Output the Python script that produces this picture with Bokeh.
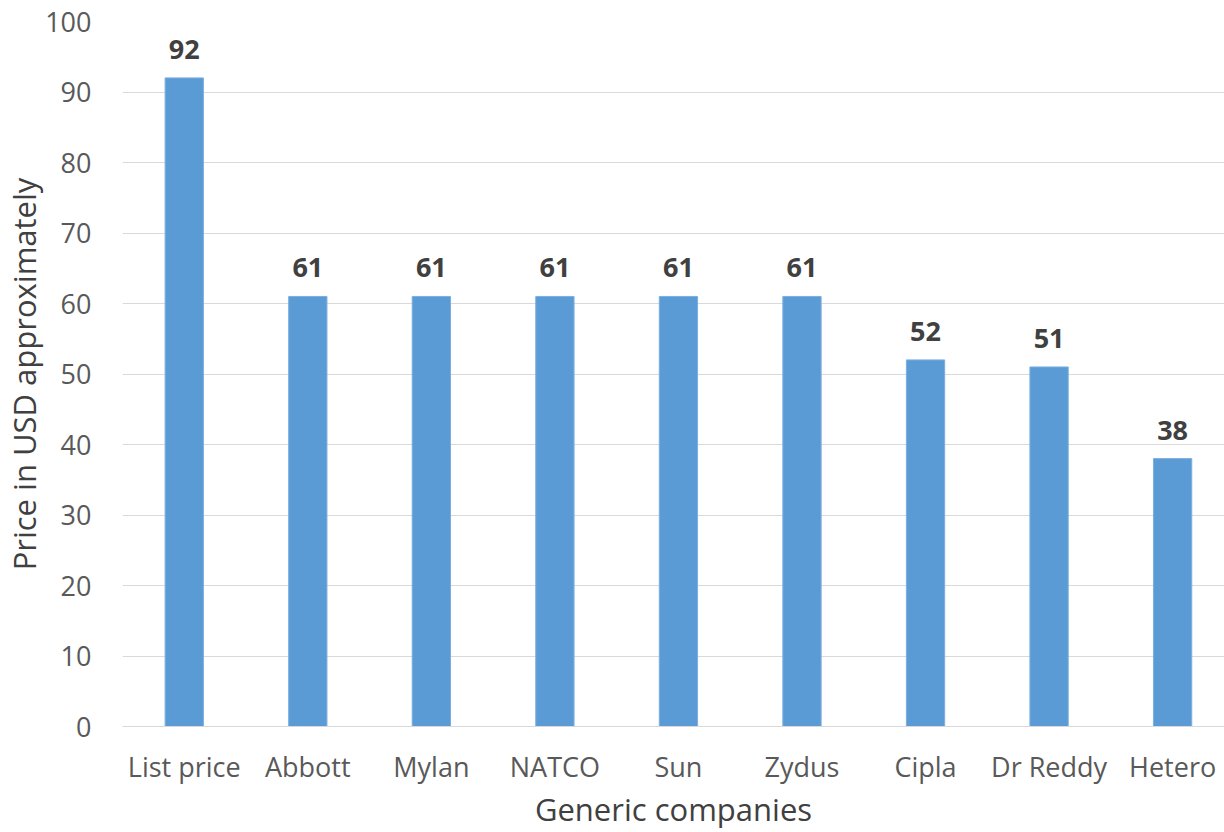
from bokeh.plotting import figure
from bokeh.models import ColumnDataSource, Range1d, FixedTicker, LabelSet
from bokeh.core.properties import value
from bokeh.embed import file_html
from bokeh.resources import INLINE

categories = ["List price", "Abbott", "Mylan", "NATCO", "Sun", "Zydus", "Cipla", "Dr Reddy", "Hetero"]
prices = [92, 61, 61, 61, 61, 61, 52, 51, 38]
y_ticks = [0, 10, 20, 30, 40, 50, 60, 70, 80, 90, 100]

xs = list(range(len(categories)))
src = ColumnDataSource(dict(x=xs, y=prices, lab=[str(v) for v in prices]))

FONT = "Open Sans"

p = figure(width=1224, height=832, output_backend="svg", toolbar_location=None,
           x_range=Range1d(-0.5, 8.42), y_range=Range1d(0, 100),
           min_border_left=121, min_border_right=0, min_border_top=21, min_border_bottom=106)
p.outline_line_color = None
p.background_fill_color = "white"
p.border_fill_color = "white"

p.vbar(x="x", top="y", width=0.31, source=src, fill_color="#5B9BD5", line_color="#7BAFE0", line_width=1)

labels = LabelSet(x="x", y="y", text="lab", source=src, text_align="center", text_baseline="alphabetic",
                  y_offset=19, text_font=value(FONT), text_font_size="27px", text_font_style="bold",
                  text_color="#404040")
p.add_layout(labels)

p.xaxis.ticker = FixedTicker(ticks=xs)
p.xaxis.major_label_overrides = {i: c for i, c in enumerate(categories)}
p.yaxis.ticker = FixedTicker(ticks=y_ticks)

for ax in (p.xaxis, p.yaxis):
    ax.major_tick_line_color = None
    ax.minor_tick_line_color = None
    ax.major_label_text_font = FONT
    ax.major_label_text_font_size = "27px"
    ax.major_label_text_color = "#595959"
    ax.axis_label_text_font = FONT
    ax.axis_label_text_font_size = "31px"
    ax.axis_label_text_color = "#404040"
    ax.axis_label_text_font_style = "normal"

p.xaxis.axis_line_color = "#D9D9D9"
p.yaxis.axis_line_color = None
p.xaxis.major_label_standoff = 15
p.yaxis.major_label_standoff = 25
p.xaxis.axis_label = "Generic companies"
p.yaxis.axis_label = "Price in USD approximately"
p.xaxis.axis_label_standoff = 0
p.yaxis.axis_label_standoff = -3

p.xgrid.grid_line_color = None
p.ygrid.grid_line_color = "#D9D9D9"
p.ygrid.grid_line_width = 1

open("out.html", "w").write(file_html(p, INLINE))
